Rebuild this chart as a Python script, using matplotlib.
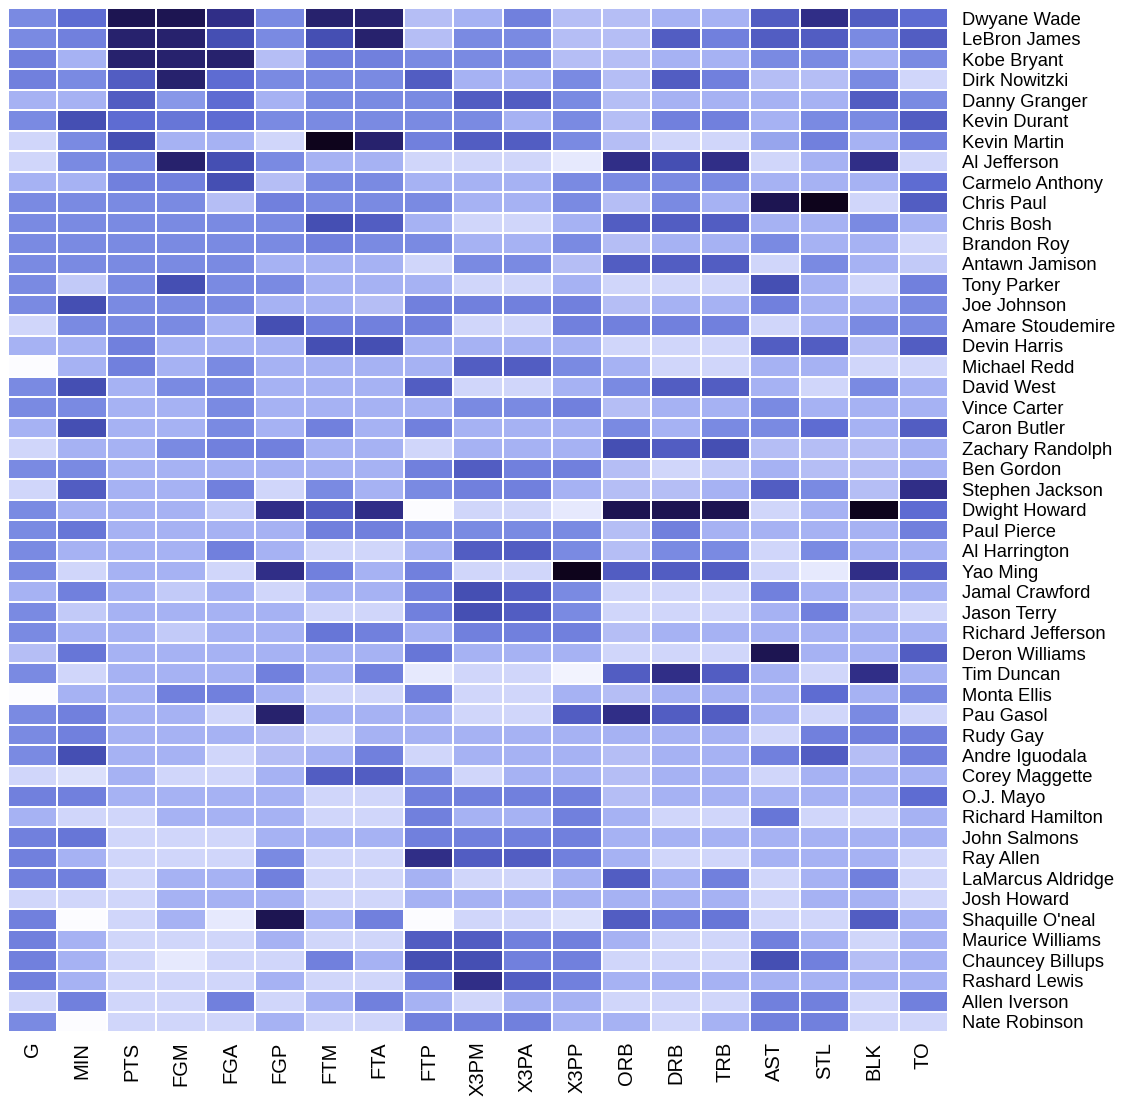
import numpy as np
import matplotlib
matplotlib.use("Agg")
import matplotlib.pyplot as plt
from matplotlib.colors import LinearSegmentedColormap

plt.rcParams['font.family'] = ['Liberation Sans', 'DejaVu Sans']

stats = ["G", "MIN", "PTS", "FGM", "FGA", "FGP", "FTM", "FTA", "FTP", "X3PM",
         "X3PA", "X3PP", "ORB", "DRB", "TRB", "AST", "STL", "BLK", "TO"]

players = ["Dwyane Wade", "LeBron James", "Kobe Bryant", "Dirk Nowitzki", "Danny Granger",
           "Kevin Durant", "Kevin Martin", "Al Jefferson", "Carmelo Anthony", "Chris Paul",
           "Chris Bosh", "Brandon Roy", "Antawn Jamison", "Tony Parker", "Joe Johnson",
           "Amare Stoudemire", "Devin Harris", "Michael Redd", "David West", "Vince Carter",
           "Caron Butler", "Zachary Randolph", "Ben Gordon", "Stephen Jackson", "Dwight Howard",
           "Paul Pierce", "Al Harrington", "Yao Ming", "Jamal Crawford", "Jason Terry",
           "Richard Jefferson", "Deron Williams", "Tim Duncan", "Monta Ellis", "Pau Gasol",
           "Rudy Gay", "Andre Iguodala", "Corey Maggette", "O.J. Mayo", "Richard Hamilton",
           "John Salmons", "Ray Allen", "LaMarcus Aldridge", "Josh Howard", "Shaquille O'neal",
           "Maurice Williams", "Chauncey Billups", "Rashard Lewis", "Allen Iverson", "Nate Robinson"]

# colour intensity per cell (0 = white, 10 = darkest)
G    = [5,5,5.5,5.5,3.5,5,2,2,3.5,5,5,5,5,5,5,2,3.5,0,5,5,3.5,2,5,2,5,5,5,5,3.5,5,5,3,5,0,5,5,5,2,5.5,3.5,5.5,5.5,5.5,2,5.5,5.5,5.5,5.5,2,5]
MIN  = [6.5,5.5,3.5,5,3.5,7.5,5,5,3.5,5,5,5,5,2.5,7.5,5,3.5,3.5,7.5,5,7.5,3.5,5,7,3.5,6,3.5,2,5.5,2.5,3.5,6,2,3.5,5.5,5.5,7.5,1.5,5.5,2,6,3.5,5.5,2,0,3.5,3.5,3.5,5.5,0]
PTS  = [9.5,9,9,7,7,6.5,7.5,5,5.5,5,5,5,5,5,5,5,5.5,5.5,3.5,3.5,3.5,3.5,3.5,3.5,3.5,3.5,3.5,3.5,3.5,3.5,3.5,3.5,3.5,3.5,3.5,3.5,3.5,3.5,3.5,2,2,2,2,2,2,2,2,2,2,2]
FGM  = [9.5,9,9,9,4.5,6,3.5,9,5.5,5,5,5,5,7.5,5,5,3.5,3.5,5,3.5,3.5,5,3.5,3.5,3.5,3.5,3.5,3.5,2.5,3.5,2.5,3.5,3.5,5.5,3.5,3.5,3.5,2,3.5,3.5,2,2,3.5,3.5,3.5,2,1,2,2,2]
FGA  = [8.5,7.5,9,6.5,6.5,6.5,3.5,7.5,7.5,3,5,5,5,5,5,3.5,3.5,5,5,5,5,5.5,3.5,5.5,2.5,3.5,5.5,2,3.5,3.5,3.5,3.5,3.5,5.5,2,3.5,2,2,3.5,3.5,2,2,3.5,3.5,1,2,2,2,5.5,2]
FGP  = [5,5,3,5,3.5,5,2,5,3,5.5,5,5,3.5,5,3.5,7.5,3.5,3.5,3.5,3.5,3.5,5.5,3.5,2,8.5,3.5,3.5,8.5,2,3.5,3.5,3.5,5.5,3.5,9,3,3,3.5,3.5,3.5,3.5,5,5.5,3.5,9.5,3.5,2,3.5,2,3.5]
FTM  = [9,7.5,5.5,5,5,5,10,3.5,5,5,7.5,5.5,3.5,3.5,3.5,5.5,7.5,3.5,3.5,3.5,5.5,3.5,3.5,5,7,5.5,2,5.5,3.5,2,6,3.5,3.5,2,3.5,2,3.5,7,2,2,3.5,2,2,2,3.5,2,5.5,2,3.5,2]
FTA  = [9,9,5.5,5,5,5,9,3.5,5,5,7,5,3.5,3.5,3,5.5,7.5,3.5,3.5,3.5,3.5,3.5,3.5,3.5,8.5,5.5,2,3.5,3.5,2,5.5,3.5,5.5,2,3.5,3.5,5.5,7,2,2,3.5,2,2,2,5.5,2,3.5,2,5.5,2]
FTP  = [3,3,5,7,5,5,5.5,2,3.5,5,3.5,5,2,3.5,5.5,5.5,3.5,3.5,7,3.5,5.5,2,5.5,5,0,5,3.5,5.5,5.5,5.5,3.5,6,1,5.5,3.5,3.5,2,5,5.5,5.5,5.5,8.5,3.5,3.5,0,7,7.5,5.5,3.5,5.5]
X3PM = [3.5,5,5,3.5,7,5,7,2,3.5,3.5,2,3.5,5,2,5.5,2,3.5,7,2,5,3.5,3.5,7,5.5,2,5,7,2,7.5,7.5,5.5,3.5,2,2,2,3.5,3.5,2,5.5,3.5,5.5,7,2,3.5,2,7,7.5,8.5,2,5.5]
X3PA = [5.5,5,5,3.5,7,3.5,7,2,3.5,3.5,2,3.5,5,2,5.5,2,3.5,7,2,5,3.5,3.5,5.5,5.5,2,5,7,2,7,7,5.5,3.5,2,2,2,3.5,3.5,3.5,5.5,3.5,5.5,7,2,3.5,2,5.5,5.5,7,3.5,5.5]
X3PP = [3,3,3,5,5,5,5,1,5,5,3.5,5,3,3.5,5.5,5.5,3.5,5,3.5,5.5,3.5,3.5,5.5,3.5,1,5,5,10,5,5,5.5,3.5,0.5,3.5,7,3.5,3.5,3.5,5.5,5.5,5.5,5.5,3.5,3.5,1.5,5.5,5.5,5.5,3.5,3.5]
ORB  = [3,3,3,3,3,3,3,8.5,5,3,7,3,7,2,3,5.5,2,3.5,5,3,5,7.5,3,3,9.5,3,3,7,2,2,3,2,7,3,8.5,3.5,3,3,3,3.5,3.5,3.5,7,3.5,7,3.5,2,3.5,2,3.5]
DRB  = [3.5,7,3.5,7,3.5,5.5,2,7.5,5,5,7,3.5,7,2,3.5,5.5,2,2,7,3.5,3.5,7,2,3,9.5,5.5,5,7,2,2,3.5,2,8.5,3.5,7,3.5,3.5,3.5,3.5,2,3.5,2,3.5,3.5,5.5,2,2,3.5,2,2]
TRB  = [3.5,5.5,3.5,5.5,3.5,5.5,2,8.5,5,3.5,7,3.5,7,2,3.5,5.5,2,2,7,3.5,5,7.5,2.5,3.5,9.5,3.5,5,7,2,2,3.5,2,7,3.5,7,3.5,3.5,3.5,3.5,2,3.5,2,5.5,3.5,6,2,2,3.5,2,3.5]
AST  = [7,7,5,3,3.5,3.5,4,2,3.5,9.5,3.5,5,2,7.5,5.5,2,7,3.5,3.5,5,5,3,3.5,7,2,3.5,2,2,5.5,3.5,3.5,9.5,3.5,3.5,3.5,2,5.5,2,3.5,6,3.5,3.5,2,2,2,5.5,7.5,3.5,5.5,5.5]
STL  = [8.5,7,5,3,3.5,5,5.5,3.5,3.5,10,3.5,3.5,5,3.5,3.5,3.5,7,3.5,2,3.5,6.5,3,3,5,3.5,3.5,5,1,3.5,5.5,3.5,3.5,2,6.5,2,5.5,7,3.5,3.5,2,3.5,3.5,3.5,3.5,2,3.5,5.5,3.5,5.5,5.5]
BLK  = [7,5,3.5,5,7,5,3.5,8.5,3.5,2,5,3.5,3.5,2,3.5,5,3,2,5,3.5,3.5,3,3,3,10,3.5,3.5,8.5,3,3,3.5,3.5,8.5,3.5,5,5.5,3,3.5,3.5,2,3.5,3.5,5.5,3.5,7,2,3,3.5,2,2]
TO   = [6.5,7,5,2,5,7,5.5,2,6.5,7,3.5,2,2.5,5.5,5,5,7,2,3.5,3.5,7,3.5,3.5,8.5,6.5,5.5,3.5,7,3.5,2,3.5,7,3.5,5,2,5.5,5.5,3.5,6.5,3.5,3.5,2,2,2,3.5,3.5,3.5,3.5,5.5,2]

data = np.array([G, MIN, PTS, FGM, FGA, FGP, FTM, FTA, FTP, X3PM, X3PA, X3PP,
                 ORB, DRB, TRB, AST, STL, BLK, TO]).T

cmap = LinearSegmentedColormap.from_list("nba", [
    (0.00, (252/255, 252/255, 255/255)),
    (0.20, (208/255, 214/255, 250/255)),
    (0.35, (166/255, 178/255, 243/255)),
    (0.50, (122/255, 138/255, 226/255)),
    (0.65, (94/255, 108/255, 210/255)),
    (0.75, (70/255, 80/255, 180/255)),
    (0.85, (48/255, 46/255, 135/255)),
    (0.95, (30/255, 22/255, 85/255)),
    (1.00, (14/255, 4/255, 28/255)),
])

fig = plt.figure(figsize=(11.32, 11.10), dpi=100)
ax = fig.add_axes([8/1132, 1 - 1032/1110, 940/1132, 1024/1110])
ax.pcolormesh(np.arange(len(stats) + 1), np.arange(len(players) + 1), data,
              cmap=cmap, vmin=0, vmax=10, edgecolors='white', linewidth=1.1)
ax.set_xlim(0, len(stats))
ax.set_ylim(len(players), 0)
for s in ax.spines.values():
    s.set_visible(False)

ax.set_xticks(np.arange(len(stats)) + 0.5)
ax.set_xticklabels(stats, rotation=90, fontsize=14.5)
ax.set_yticks(np.arange(len(players)) + 0.5)
ax.set_yticklabels(players, fontsize=13.2)
ax.yaxis.tick_right()
ax.tick_params(axis='both', length=0)
ax.tick_params(axis='y', pad=10)
ax.tick_params(axis='x', pad=7)

fig.savefig("out.png", dpi=100, facecolor='white')
